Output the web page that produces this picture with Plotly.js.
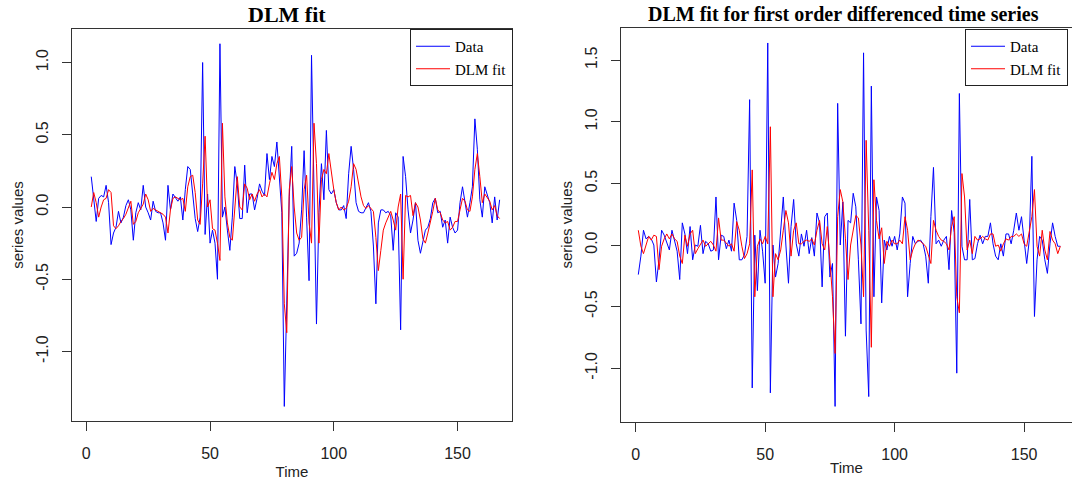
<!DOCTYPE html>
<html><head><meta charset="utf-8">
<script src="https://cdn.plot.ly/plotly-3.0.1.min.js"></script>
<style>html,body{margin:0;padding:0;background:#fff;overflow:hidden}#chart{width:1072px;height:484px}</style>
</head><body><div id="chart"></div>
<script>
// ---- data ----
const leftStart = 2;   // first time index of the left series
const rightStart = 1;  // first time index of the differenced series

const leftData = [
 0.21, 0.03, -0.10, 0.06, 0.08, 0.07, 0.15, 0.03, -0.26, -0.18,
 -0.14, -0.03, -0.11, -0.07, 0.01, 0.05, -0.02, -0.23, -0.04, 0.03,
 -0.02, 0.15, 0.00, -0.04, -0.09, 0.04, -0.03, -0.04, -0.04, -0.11,
 -0.23, 0.15, -0.02, 0.09, 0.06, 0.04, 0.07, -0.09, 0.12, 0.28,
 0.26, 0.10, -0.08, -0.17, -0.07, 1.00, -0.19, 0.09, -0.25, -0.16,
 -0.25, -0.50, 1.13, -0.07, 0.00, -0.16, -0.30, -0.07, 0.28, 0.16,
 -0.08, -0.08, 0.29, -0.04, 0.09, 0.09, -0.02, 0.06, 0.16, 0.11,
 0.08, 0.37, 0.19, 0.35, 0.28, 0.45, 0.23, -0.04, -1.38, -0.71,
 0.07, 0.42, -0.34, -0.32, -0.25, -0.02, 0.39, -0.07, -0.51, 1.05,
 0.03, -0.81, -0.04, 0.30, 0.05, 0.53, 0.12, 0.09, 0.12, 0.03,
 -0.02, -0.02, 0.01, -0.08, 0.23, 0.42, 0.26, 0.03, -0.03, -0.04,
 -0.04, -0.01, 0.03, -0.03, -0.27, -0.67, -0.11, -0.02, -0.02, -0.04,
 -0.03, -0.06, -0.30, -0.04, -0.07, -0.85, 0.35, 0.21, -0.02, -0.18,
 -0.09, 0.03, -0.23, -0.32, -0.23, -0.16, -0.14, -0.08, 0.03, 0.06,
 -0.04, -0.03, -0.14, -0.09, -0.25, -0.07, -0.14, -0.18, -0.16, 0.03,
 0.14, 0.03, -0.07, 0.03, 0.14, 0.61, 0.40, 0.05, -0.07, 0.14,
 0.09, 0.03, -0.11, 0.07, -0.09, 0.05
];
const leftFit = [
 0.00, 0.10, 0.03, -0.07, 0.00, 0.05, 0.06, 0.12, 0.10, -0.13,
 -0.15, -0.13, -0.10, -0.08, -0.05, 0.00, 0.04, -0.12, -0.10, -0.04,
 -0.01, 0.02, 0.09, 0.05, -0.03, -0.01, -0.02, -0.03, -0.04, -0.05,
 -0.07, -0.18, -0.02, 0.06, 0.07, 0.06, 0.05, 0.06, -0.03, 0.14,
 0.21, 0.22, 0.10, -0.09, -0.12, 0.16, 0.49, 0.00, 0.05, -0.15,
 -0.16, -0.25, -0.37, 0.58, 0.07, -0.11, -0.21, -0.23, 0.00, 0.21,
 0.00, -0.02, 0.16, 0.13, 0.05, 0.09, 0.04, 0.09, 0.12, 0.07,
 0.09, 0.07, 0.16, 0.24, 0.19, 0.30, 0.35, 0.07, -0.67, -0.87,
 0.12, 0.28, 0.00, -0.18, -0.23, -0.21, 0.12, 0.22, -0.11, -0.25,
 0.58, 0.30, -0.25, 0.19, 0.26, 0.23, 0.37, 0.23, 0.12, 0.03,
 -0.02, 0.00, -0.02, -0.01, 0.04, 0.14, 0.30, 0.26, 0.16, 0.07,
 0.01, -0.01, 0.01, -0.01, -0.03, -0.21, -0.44, -0.30, -0.16, -0.11,
 -0.07, -0.03, -0.09, -0.16, 0.00, 0.09, -0.50, 0.08, 0.07, 0.08,
 -0.06, 0.03, 0.00, -0.09, -0.22, -0.25, -0.18, -0.11, -0.03, 0.06,
 -0.02, -0.04, -0.09, -0.11, -0.10, -0.16, -0.14, -0.10, -0.10, -0.02,
 0.06, 0.04, -0.02, -0.03, 0.07, 0.26, 0.37, 0.21, 0.03, 0.09,
 0.06, 0.04, -0.02, 0.01, -0.06, -0.08
];
const rightData = [
 -0.24, -0.09, 0.12, 0.05, 0.07, 0.05, 0.00, -0.30, -0.12, 0.12,
 0.08, 0.01, -0.04, 0.12, 0.04, -0.05, -0.28, 0.18, 0.09, -0.07,
 0.15, -0.12, 0.00, -0.01, 0.16, -0.07, 0.03, 0.01, -0.05, -0.04,
 0.39, -0.12, 0.08, 0.07, -0.03, 0.04, -0.05, 0.34, 0.20, -0.12,
 -0.12, -0.08, 0.07, 1.18, -1.16, 0.08, -0.37, 0.12, -0.05, -0.31,
 1.64, -1.20, 0.00, -0.26, -0.15, 0.12, 0.39, 0.00, -0.31, 0.15,
 0.37, 0.01, -0.09, 0.09, -0.01, 0.12, -0.07, 0.06, -0.09, 0.26,
 0.18, -0.34, 0.23, 0.26, -0.26, -0.15, -1.31, 1.15, 0.00, 0.35,
 -0.74, 0.20, 0.18, 0.42, 0.31, -0.12, -0.64, 1.56, -0.69, -1.23,
 1.29, -0.42, 0.39, 0.28, -0.47, 0.04, -0.04, 0.07, -0.01, 0.07,
 -0.04, 0.09, 0.39, 0.34, -0.42, -0.15, 0.07, 0.01, 0.03, 0.04,
 0.01, -0.09, -0.31, 0.23, 0.63, 0.01, 0.04, -0.01, 0.04, 0.07,
 -0.20, 0.28, 0.10, -1.04, 1.23, -0.01, -0.12, -0.12, 0.37, -0.12,
 -0.11, 0.01, 0.08, 0.01, 0.07, 0.07, 0.18, 0.01, -0.09, -0.12,
 0.01, -0.09, 0.09, 0.09, 0.01, 0.12, 0.26, 0.12, 0.23, 0.04,
 -0.15, 0.04, 0.72, -0.58, -0.12, 0.07, 0.04, -0.12, -0.23, 0.01,
 0.18, 0.07, -0.01, -0.01
];
const rightFit = [
 0.12, -0.01, -0.07, 0.01, 0.07, 0.04, 0.08, 0.07, -0.20, -0.01,
 0.05, 0.09, 0.05, 0.09, 0.05, 0.03, -0.09, -0.15, 0.08, -0.01,
 0.09, 0.12, -0.07, -0.03, 0.01, 0.04, -0.01, 0.01, 0.03, 0.00,
 -0.05, 0.22, 0.04, 0.04, 0.01, -0.01, 0.01, -0.05, 0.19, 0.12,
 -0.01, -0.11, -0.07, 0.01, 0.61, -0.42, -0.01, 0.05, 0.01, 0.07,
 0.01, 0.96, -0.42, -0.07, -0.12, -0.04, 0.12, 0.28, 0.18, -0.09,
 0.12, 0.18, 0.01, 0.01, 0.03, 0.04, 0.03, 0.05, 0.00, 0.12,
 0.20, 0.01, -0.04, 0.15, -0.12, -0.42, -0.88, 0.23, 0.45, 0.35,
 0.05, -0.28, 0.00, 0.12, 0.24, 0.22, 0.00, -0.42, 0.85, 0.12,
 -0.83, 0.53, 0.20, 0.05, 0.14, -0.15, 0.03, -0.01, 0.04, 0.01,
 0.01, 0.04, 0.01, 0.23, 0.12, -0.12, -0.04, 0.01, 0.04, 0.03,
 0.01, -0.01, -0.08, -0.15, 0.20, 0.12, 0.07, 0.04, 0.03, 0.01,
 -0.04, 0.15, 0.23, -0.42, -0.55, 0.58, 0.39, -0.04, 0.04, -0.07,
 0.07, 0.04, 0.05, 0.07, 0.05, 0.04, 0.09, 0.09, -0.01, 0.00,
 -0.05, 0.01, 0.05, 0.04, 0.07, 0.07, 0.09, 0.07, 0.09, 0.01,
 -0.01, 0.12, 0.23, 0.45, -0.01, -0.09, 0.12, -0.04, -0.12, 0.11,
 0.04, 0.01, -0.07, -0.01
];

const xTickVals = [0, 50, 100, 150];
const xTickText = ['0', '50', '100', '150'];
const leftYTickVals = [-1, -0.5, 0, 0.5, 1];
const leftYTickText = ['-1.0', '-0.5', '0.0', '0.5', '1.0'];
const rightYTickVals = [-1, -0.5, 0, 0.5, 1, 1.5];
const rightYTickText = ['-1.0', '-0.5', '0.0', '0.5', '1.0', '1.5'];
const seriesNames = ['Data', 'DLM fit'];
const panelTitles = ['DLM fit', 'DLM fit for first order differenced time series'];
const xTitle = 'Time';
const yTitle = 'series values';

// ---- build ----
function timeIndex(start, n) { const a = []; for (let i = 0; i < n; i++) a.push(start + i); return a; }
const W = 1072, H = 484;
const SANS = 'Liberation Sans, Arial, sans-serif';
const SERIF = 'Liberation Serif, Times New Roman, serif';
const BLUE = '#0000FF', RED = '#FF0000';

const lt = timeIndex(leftStart, leftData.length);
const rt = timeIndex(rightStart, rightData.length);

const traces = [
  {x: lt, y: leftData, xaxis: 'x', yaxis: 'y', mode: 'lines', name: seriesNames[0],
   line: {color: BLUE, width: 1}, legend: 'legend', legendgroup: 'a', hoverinfo: 'skip'},
  {x: lt, y: leftFit, xaxis: 'x', yaxis: 'y', mode: 'lines', name: seriesNames[1],
   line: {color: RED, width: 1}, legend: 'legend', legendgroup: 'b', hoverinfo: 'skip'},
  {x: rt, y: rightData, xaxis: 'x2', yaxis: 'y2', mode: 'lines', name: seriesNames[0],
   line: {color: BLUE, width: 1}, legend: 'legend2', legendgroup: 'c', hoverinfo: 'skip'},
  {x: rt, y: rightFit, xaxis: 'x2', yaxis: 'y2', mode: 'lines', name: seriesNames[1],
   line: {color: RED, width: 1}, legend: 'legend2', legendgroup: 'd', hoverinfo: 'skip'}
];

function xAxis(domain, range, anchor, standoff) {
  return {domain, range, anchor, tickmode: 'array', tickvals: xTickVals, ticktext: xTickText,
    ticks: 'outside', ticklen: 9, tickwidth: 1, tickcolor: '#333', ticklabelstandoff: 9,
    showline: true, linecolor: '#333', linewidth: 1, mirror: true,
    showgrid: false, zeroline: false, fixedrange: true,
    tickfont: {family: SANS, size: 16, color: '#222'},
    title: {text: xTitle, font: {family: SANS, size: 15, color: '#222'}, standoff}};
}
function yAxis(domain, range, anchor, vals, text) {
  return {domain, range, anchor, tickmode: 'array', tickvals: vals, ticktext: text,
    ticks: 'outside', ticklen: 9, tickwidth: 1, tickcolor: '#333', tickangle: -90, ticklabelstandoff: 8,
    showline: true, linecolor: '#333', linewidth: 1, mirror: true,
    showgrid: false, zeroline: false, fixedrange: true,
    tickfont: {family: SANS, size: 16, color: '#222'},
    title: {text: yTitle, font: {family: SANS, size: 15, color: '#222'}, standoff: 6}};
}
function legendAt(xRightPx, yTopPx) {
  return {x: xRightPx / W, xanchor: 'right', y: 1 - yTopPx / H, yanchor: 'top',
    bgcolor: '#fff', bordercolor: '#222', borderwidth: 1, itemwidth: 34, tracegroupgap: 0,
    font: {family: SERIF, size: 15, color: '#000'}, itemclick: false, itemdoubleclick: false};
}

const layout = {
  width: W, height: H, margin: {l: 0, r: 0, t: 0, b: 0, pad: 0},
  paper_bgcolor: '#fff', plot_bgcolor: '#fff', showlegend: true,
  xaxis: xAxis([72 / W, 512 / W], [-5.78, 172.0], 'y', 5),
  yaxis: yAxis([63 / H, 455 / H], [-1.481, 1.232], 'x', leftYTickVals, leftYTickText),
  xaxis2: xAxis([621 / W, 1], [-5.68, 168.5], 'y2', 0),
  yaxis2: yAxis([62.3 / H, 456.3 / H], [-1.434, 1.764], 'x2', rightYTickVals, rightYTickText),
  legend: legendAt(513, 29),
  legend2: legendAt(1068, 29),
  annotations: [
    {text: '<b>' + panelTitles[0] + '</b>', xref: 'paper', yref: 'paper', x: 287 / W, y: 1 - 15 / H,
     xanchor: 'center', yanchor: 'middle', showarrow: false,
     font: {family: SERIF, size: 22, color: '#000'}},
    {text: '<b>' + panelTitles[1] + '</b>', xref: 'paper', yref: 'paper', x: 843 / W, y: 1 - 14 / H,
     xanchor: 'center', yanchor: 'middle', showarrow: false,
     font: {family: SERIF, size: 20, color: '#000'}}
  ]
};

Plotly.newPlot('chart', traces, layout, {staticPlot: true, displayModeBar: false});
</script>
</body></html>
